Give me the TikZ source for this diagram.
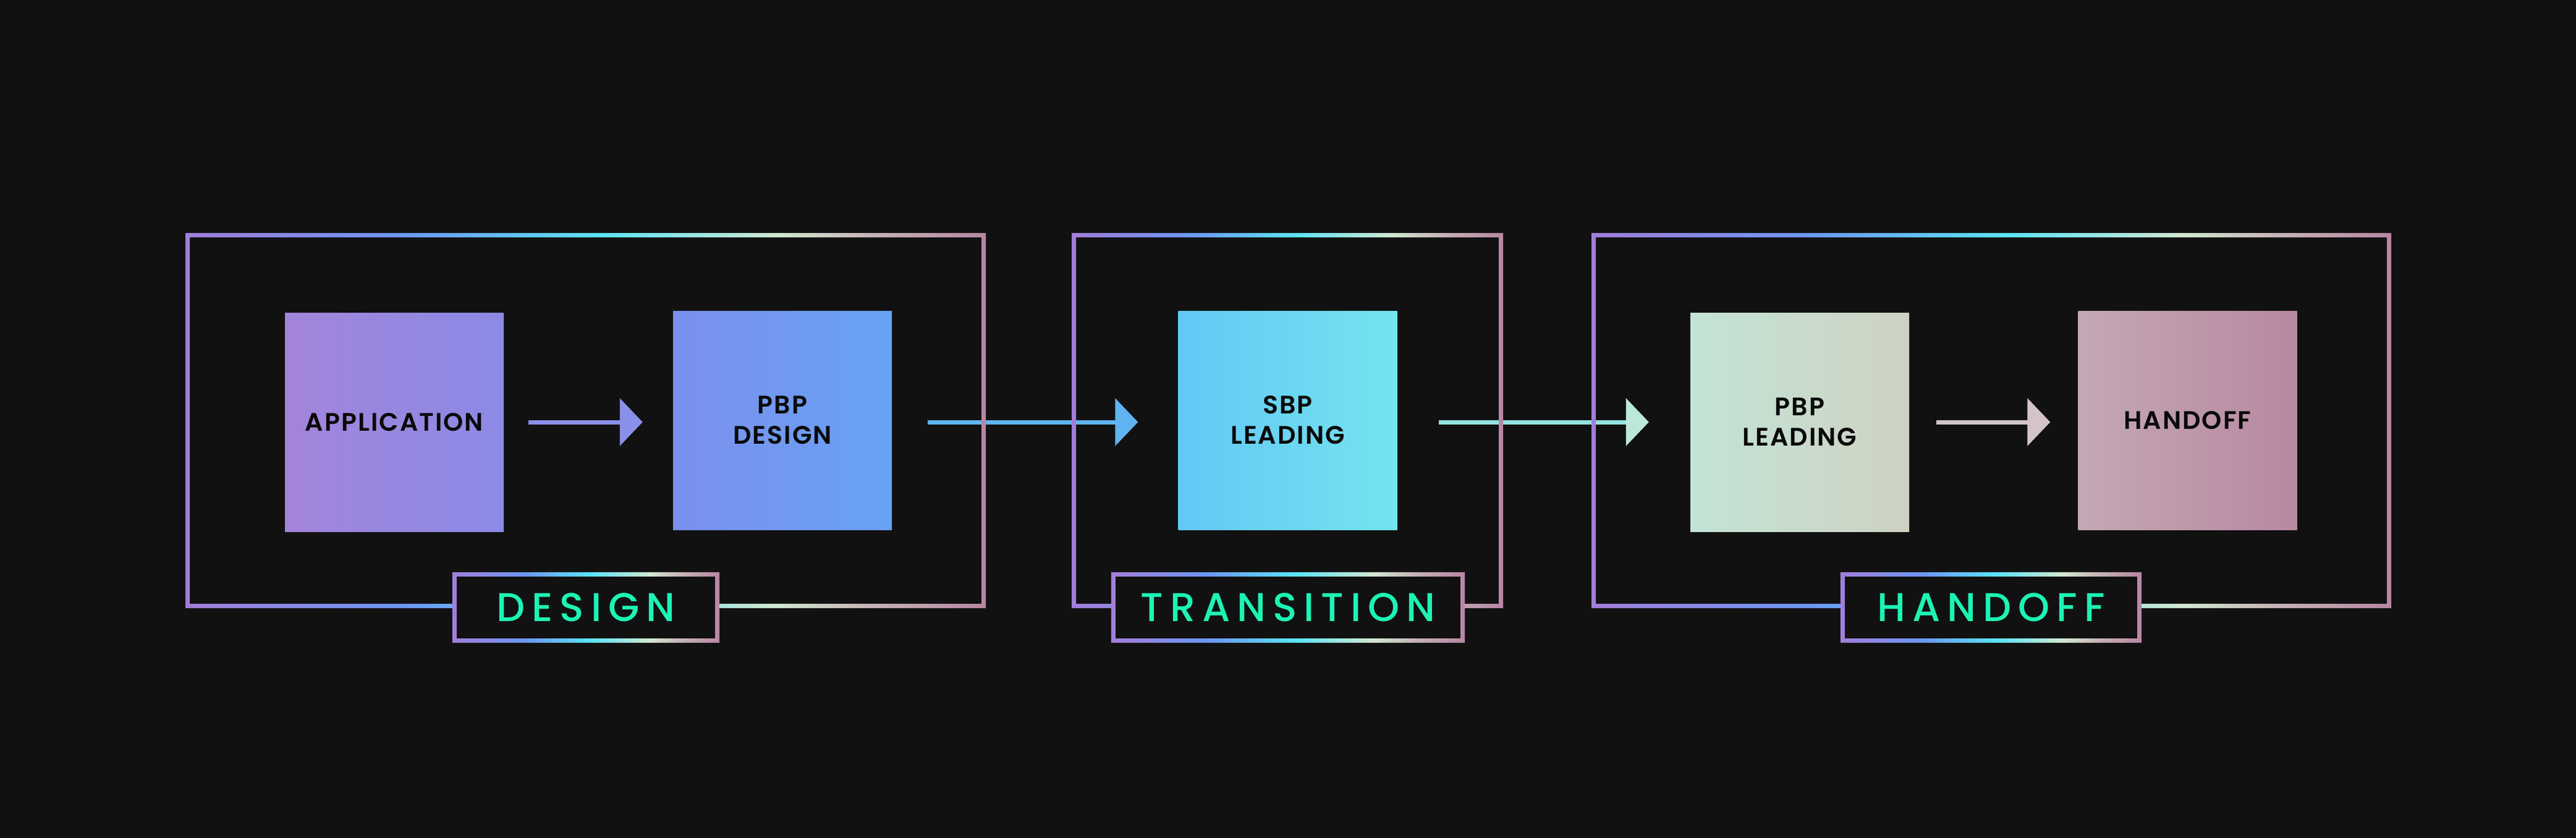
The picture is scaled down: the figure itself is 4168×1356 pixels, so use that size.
\documentclass[tikz,border=0pt]{standalone}
\usepackage{fontspec}
\setmainfont{Poppins}
\newfontfamily\lblfont[LetterSpace=17]{Poppins Medium}
\newfontfamily\boxfont[LetterSpace=5]{Poppins SemiBold}
\usetikzlibrary{arrows.meta}
\definecolor{bg}{HTML}{111111}
\definecolor{gA}{HTML}{A27ED9}
\definecolor{gB}{HTML}{6C96F3}
\definecolor{gC}{HTML}{5AE4F8}
\definecolor{gD}{HTML}{D2E8D0}
\definecolor{gE}{HTML}{C6B2B6}
\definecolor{gF}{HTML}{B886A2}
\definecolor{lblgreen}{HTML}{1CF4B4}
\definecolor{ink}{HTML}{0A0A0A}
\definecolor{aOne}{HTML}{8A8FE8}
\definecolor{aTwo}{HTML}{5FB4F0}
\definecolor{aThree}{HTML}{94E4E2}
\definecolor{aThreeTip}{HTML}{BCE8DC}
\definecolor{aFour}{HTML}{D0C6C6}
\definecolor{aFourTip}{HTML}{D4C4C8}
\definecolor{bAl}{HTML}{A384DB}\definecolor{bAr}{HTML}{8B8AE5}
\definecolor{bBl}{HTML}{7A90EC}\definecolor{bBr}{HTML}{68A2F5}
\definecolor{bCl}{HTML}{62C8F6}\definecolor{bCm}{HTML}{5EE6F8}\definecolor{bCr}{HTML}{74E4EE}
\definecolor{bDl}{HTML}{C2E4D6}\definecolor{bDm}{HTML}{D2E4CC}\definecolor{bDr}{HTML}{CFD2C2}
\definecolor{bEl}{HTML}{C4A8B4}\definecolor{bEr}{HTML}{B888A2}
\pgfdeclarehorizontalshading{rainbow}{100bp}{color(0bp)=(gA); color(25bp)=(gA); color(38.5bp)=(gB); color(51bp)=(gC); color(62bp)=(gD); color(68bp)=(gE); color(75bp)=(gF); color(100bp)=(gF)}
\tikzset{
  stepbox/.style={minimum width=354pt, minimum height=354pt, inner sep=0pt, align=center,
    text=ink, font=\fontsize{41}{49}\selectfont\boxfont},
  lblbox/.style={fill=bg, inner sep=0pt, text=lblgreen, font=\fontsize{65}{70}\selectfont\lblfont},
  flow/.style={line width=7pt, -{Triangle[length=37pt,width=76pt]}},
}
\begin{document}
\begin{tikzpicture}[x=1pt,y=-1pt]
\useasboundingbox (0,0) rectangle (4168,1356);
\fill[bg] (0,0) rectangle (4168,1356);

% boxes
\node[stepbox, left color=bAl, right color=bAr] (app) at (638,683) {APPLICATION};
\node[stepbox, left color=bBl, right color=bBr] (pbpd) at (1266,680) {PBP\\DESIGN};
\node[stepbox, left color=bCl, middle color=bCm, right color=bCr] (sbp) at (2083.5,680) {SBP\\LEADING};
\node[stepbox, left color=bDl, middle color=bDm, right color=bDr] (pbpl) at (2912,683) {PBP\\LEADING};
\node[stepbox, left color=bEl, right color=bEr] (hand) at (3539.5,680) {HANDOFF};

% arrows
\draw[flow, aOne, shorten <=40pt, shorten >=49pt] (app.east) -- (app.east -| pbpd.west);
\draw[flow, aTwo, shorten <=58pt, shorten >=65pt] (app.east -| pbpd.east) -- (app.east -| sbp.west);
\draw[line width=7pt, aThree, -{Triangle[length=37pt,width=76pt,color=aThreeTip,fill=aThreeTip]}, shorten <=67pt, shorten >=67pt] (app.east -| sbp.east) -- (app.east -| pbpl.west);
\draw[line width=7pt, aFour, -{Triangle[length=37pt,width=76pt,color=aFourTip,fill=aFourTip]}, shorten <=44pt, shorten >=45pt] (pbpl.east) -- (pbpl.east -| hand.west);

% frames
\shade[shading=rainbow, even odd rule] (300,377) rectangle (1595,984) (307,384) rectangle (1588,977);
\shade[shading=rainbow, even odd rule] (1734,377) rectangle (2432,984) (1741,384) rectangle (2425,977);
\shade[shading=rainbow, even odd rule] (2575,377) rectangle (3869,984) (2582,384) rectangle (3862,977);

% labels
\node[lblbox, minimum width=432pt, minimum height=114pt] (lD) at (948,983) {DESIGN};
\node[lblbox, minimum width=572pt, minimum height=114pt] (lT) at (2084,983) {TRANSITION};
\node[lblbox, minimum width=487pt, minimum height=114pt] (lH) at (3221.5,983) {HANDOFF};
\foreach \n in {lD,lT,lH}{
  \shade[shading=rainbow, even odd rule] (\n.south west) rectangle (\n.north east)
    ([shift={(7pt,7pt)}]\n.south west) rectangle ([shift={(-7pt,-7pt)}]\n.north east);
}
\end{tikzpicture}
\end{document}
